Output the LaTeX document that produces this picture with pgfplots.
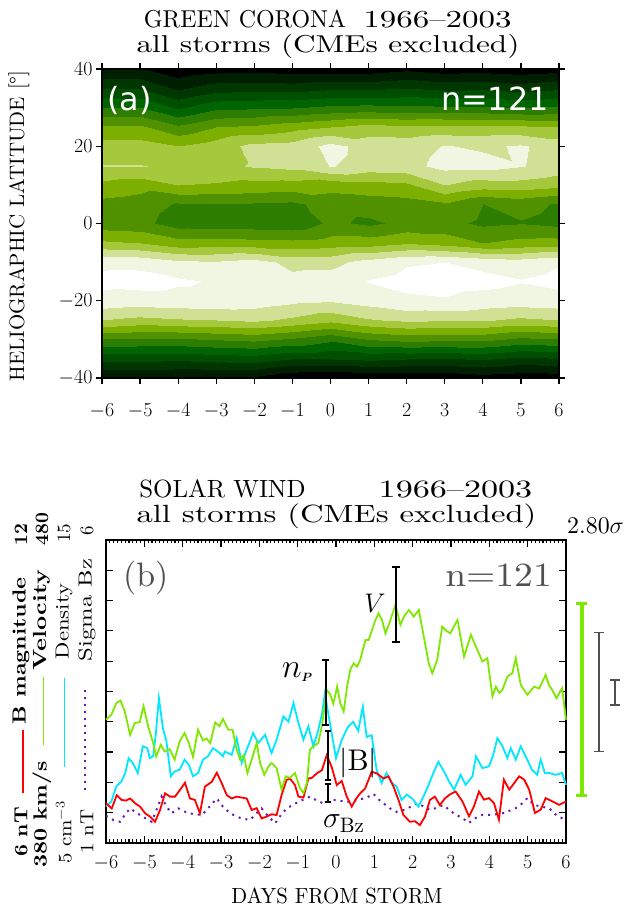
\RequirePackage{fix-cm}
\documentclass[border=0pt]{standalone}
\usepackage{fontspec}
\setmainfont{lmroman10-regular}[Extension=.otf, BoldFont=lmroman10-bold, ItalicFont=lmroman10-italic, BoldItalicFont=lmroman10-bolditalic]
\usepackage{bm}
\usepackage{graphicx}
\usepackage{pgfplots}
\pgfplotsset{compat=1.18}
\newfontfamily\dejavu{DejaVu Sans}
\definecolor{cgreen}{RGB}{127,232,0}
\definecolor{ccyan}{RGB}{0,232,255}
\definecolor{cred}{RGB}{255,0,0}
\definecolor{cpurple}{RGB}{100,25,180}
\definecolor{cgray}{RGB}{80,80,80}
\pgfplotsset{colormap={greencorona}{rgb255=(0,0,0) rgb255=(0,30,0) rgb255=(0,55,0) rgb255=(0,78,0) rgb255=(0,100,0) rgb255=(45,125,0) rgb255=(80,145,0) rgb255=(125,175,0) rgb255=(165,200,60) rgb255=(208,225,150) rgb255=(240,246,225) rgb255=(255,255,255)}}
\newcommand\fs[1]{\fontsize{#1}{#1}\selectfont}
\pgfplotstableread{
x y z
-6 -40 1.0
-5 -40 1.0
-4 -40 0.9
-3 -40 0.9
-2 -40 0.8
-1 -40 0.1
0 -40 0.0
1 -40 0.1
2 -40 0.2
3 -40 0.2
4 -40 0.5
5 -40 0.3
6 -40 0.4
-6 -35 3.3
-5 -35 3.3
-4 -35 3.2
-3 -35 3.4
-2 -35 3.5
-1 -35 3.0
0 -35 3.0
1 -35 3.2
2 -35 3.0
3 -35 2.9
4 -35 3.1
5 -35 2.7
6 -35 2.9
-6 -30 6.0
-5 -30 5.9
-4 -30 5.9
-3 -30 6.1
-2 -30 6.3
-1 -30 5.9
0 -30 5.3
1 -30 6.1
2 -30 6.4
3 -30 6.3
4 -30 6.3
5 -30 5.8
6 -30 6.0
-6 -25 9.0
-5 -25 8.7
-4 -25 8.9
-3 -25 9.0
-2 -25 9.2
-1 -25 8.8
0 -25 8.3
1 -25 8.9
2 -25 9.2
3 -25 9.1
4 -25 9.1
5 -25 8.8
6 -25 9.0
-6 -20 10.65
-5 -20 10.5
-4 -20 10.6
-3 -20 10.6
-2 -20 10.5
-1 -20 10.2
0 -20 10.05
1 -20 10.4
2 -20 10.8
3 -20 10.9
4 -20 10.6
5 -20 10.5
6 -20 10.6
-6 -15 11.3
-5 -15 11.4
-4 -15 11.15
-3 -15 10.9
-2 -15 10.8
-1 -15 10.3
0 -15 10.5
1 -15 11.05
2 -15 11.3
3 -15 11.4
4 -15 11.3
5 -15 11.05
6 -15 11.3
-6 -10 10.75
-5 -10 10.7
-4 -10 10.2
-3 -10 10.1
-2 -10 10.4
-1 -10 9.7
0 -10 9.7
1 -10 10.4
2 -10 10.9
3 -10 11.0
4 -10 10.7
5 -10 10.5
6 -10 10.9
-6 -5 8.2
-5 -5 8.0
-4 -5 7.4
-3 -5 7.5
-2 -5 7.4
-1 -5 7.3
0 -5 7.45
1 -5 7.5
2 -5 7.9
3 -5 7.6
4 -5 7.0
5 -5 7.3
6 -5 7.4
-6 0 6.4
-5 0 6.3
-4 0 5.5
-3 0 5.4
-2 0 5.4
-1 0 5.3
0 0 6.2
1 0 5.8
2 0 6.3
3 0 6.3
4 0 5.8
5 0 5.95
6 0 5.7
-6 5 6.7
-5 5 6.5
-4 5 5.9
-3 5 5.9
-2 5 5.9
-1 5 5.8
0 5 6.4
1 5 6.5
2 5 6.6
3 5 6.9
4 5 6.0
5 5 6.3
6 5 5.9
-6 10 7.7
-5 10 7.4
-4 10 8.0
-3 10 7.9
-2 10 7.7
-1 10 7.6
0 10 7.4
1 10 7.6
2 10 7.8
3 10 9.0
4 10 8.5
5 10 8.6
6 10 8.3
-6 15 9.05
-5 15 9.05
-4 15 8.8
-3 15 8.7
-2 15 9.1
-1 15 9.3
0 15 10.05
1 15 9.6
2 15 9.7
3 15 10.3
4 15 10.35
5 15 10.05
6 15 9.6
-6 20 8.4
-5 20 8.4
-4 20 8.0
-3 20 8.5
-2 20 9.3
-1 20 9.4
0 20 10.3
1 20 9.6
2 20 9.6
3 20 10.05
4 20 9.85
5 20 10.1
6 20 9.6
-6 25 7.2
-5 25 7.2
-4 25 6.2
-3 25 7.0
-2 25 7.2
-1 25 7.6
0 25 8.0
1 25 8.4
2 25 8.2
3 25 8.3
4 25 8.3
5 25 8.2
6 25 8.0
-6 30 5.1
-5 30 5.1
-4 30 3.9
-3 30 4.8
-2 30 4.9
-1 30 5.0
0 30 5.3
1 30 5.4
2 30 5.3
3 30 5.2
4 30 5.2
5 30 5.0
6 30 5.2
-6 35 2.9
-5 35 2.9
-4 35 1.8
-3 35 2.5
-2 35 2.6
-1 35 2.5
0 35 2.8
1 35 2.8
2 35 3.0
3 35 2.7
4 35 2.8
5 35 2.5
6 35 2.8
-6 40 1.1
-5 40 1.1
-4 40 0.3
-3 40 0.6
-2 40 0.7
-1 40 0.5
0 40 0.5
1 40 0.5
2 40 0.8
3 40 0.5
4 40 0.6
5 40 0.4
6 40 0.6
}\corona
\begin{document}
\begin{tikzpicture}
\useasboundingbox (0,0) rectangle (632bp,908bp);
% ---------------- panel (a)
\begin{axis}[at={(102bp,530bp)}, anchor=south west, scale only axis,
  width=457bp, height=309bp,
  xmin=-6, xmax=6, ymin=-40, ymax=40,
  xtick={-6,...,6}, ytick={-40,-20,0,20,40},
  tick align=outside, major tick length=6bp, axis on top,
  axis line style={line width=1.2bp},
  tick style={black, line width=1.2bp},
  tick label style={font=\fs{20}},
  xticklabel style={yshift=-16bp},
  colormap name=greencorona, colormap access=piecewise constant,
  point meta min=0, point meta max=12]
\addplot[surf, shader=interp, mesh/cols=13, point meta=explicit]
  table[x=x, y=y, meta=z] {\corona};
\end{axis}
% ---------------- panel (b)
\begin{axis}[at={(106bp,65bp)}, anchor=south west, scale only axis,
  width=460bp, height=303bp,
  xmin=-6, xmax=6, ymin=0, ymax=10,
  xtick={-6,...,6}, ytick={0,...,10}, yticklabel=\empty,
  minor x tick num=9,
  tick align=inside, major tick length=7bp, minor tick length=3.5bp,
  axis line style={line width=2.2bp},
  tick style={black, line width=1.2bp},
  xticklabel style={font=\fs{20}, yshift=-9bp},
  clip=false]
% Sigma Bz
\addplot[cpurple, line width=2bp, dash pattern=on 2bp off 5bp] coordinates {
(-6.0,0.9) (-5.8,0.75) (-5.63,0.7) (-5.5,0.95) (-5.37,1.14) (-5.2,1.0) (-5.11,0.92) (-4.95,0.8) (-4.81,0.7) (-4.68,1.1) (-4.55,1.53) (-4.42,1.2) (-4.29,0.98) (-4.11,1.14) (-3.97,1.05) (-3.85,0.98) (-3.65,0.95) (-3.5,0.92) (-3.3,1.2) (-3.11,1.47) (-2.95,1.2) (-2.76,0.98) (-2.6,0.88) (-2.46,0.81) (-2.24,0.76) (-2.1,0.95) (-1.94,1.14) (-1.78,0.9) (-1.59,0.65) (-1.45,0.9) (-1.29,1.14) (-1.13,1.25) (-0.98,1.36) (-0.82,1.45) (-0.68,1.53) (-0.5,1.4) (-0.33,1.31) (-0.2,1.38) (-0.07,1.42) (0.1,1.4) (0.25,1.35) (0.4,1.38) (0.58,1.42) (0.8,1.5) (0.98,1.62) (1.1,1.45) (1.24,1.31) (1.4,1.15) (1.58,1.03) (1.8,1.1) (1.95,1.2) (2.11,1.31) (2.3,1.2) (2.45,1.09) (2.6,1.15) (2.8,1.25) (2.95,1.1) (3.1,0.95) (3.3,0.82) (3.47,0.66) (3.6,0.8) (3.82,0.93) (4.08,0.93) (4.38,0.99) (4.69,1.15) (4.85,1.3) (4.99,1.48) (5.17,1.26) (5.35,1.2) (5.56,1.15) (5.78,0.88) (6.0,0.77)};
% Density
\addplot[ccyan, line width=1.8bp] coordinates {
(-6.0,1.21) (-5.86,1.37) (-5.73,1.87) (-5.6,2.03) (-5.5,2.3) (-5.41,2.8) (-5.3,2.64) (-5.17,2.31) (-5.04,3.19) (-4.92,3.13) (-4.86,2.8) (-4.77,2.86) (-4.70,3.6) (-4.62,4.78) (-4.51,3.74) (-4.43,3.41) (-4.31,2.2) (-4.21,2.36) (-4.08,2.42) (-3.95,2.75) (-3.84,2.58) (-3.73,2.2) (-3.6,2.31) (-3.47,2.75) (-3.34,2.86) (-3.21,3.13) (-3.08,3.02) (-2.95,2.86) (-2.9,3.02) (-2.72,2.91) (-2.59,3.46) (-2.46,2.64) (-2.33,3.08) (-2.16,3.63) (-2.03,3.30) (-1.85,3.57) (-1.68,2.97) (-1.55,3.41) (-1.37,4.18) (-1.24,4.0) (-1.11,4.62) (-0.98,3.96) (-0.85,3.41) (-0.72,3.85) (-0.59,3.19) (-0.46,3.74) (-0.36,4.3) (-0.29,4.95) (-0.16,3.96) (0.0,2.8) (0.15,3.4) (0.31,3.83) (0.45,4.0) (0.58,3.7) (0.7,4.5) (0.8,3.5) (0.93,3.56) (1.06,2.41) (1.19,1.98) (1.32,2.31) (1.45,2.0) (1.58,1.86) (1.71,1.42) (1.85,1.6) (2.0,1.45) (2.15,1.2) (2.28,1.53) (2.41,1.9) (2.54,2.31) (2.67,2.68) (2.8,2.4) (2.95,2.03) (3.08,1.76) (3.25,2.25) (3.38,1.92) (3.56,2.2) (3.65,2.86) (3.82,2.47) (3.99,2.53) (4.1,2.9) (4.21,3.46) (4.34,3.2) (4.47,2.8) (4.56,3.13) (4.69,2.75) (4.82,3.19) (4.99,2.75) (5.11,2.42) (5.25,2.25) (5.34,2.75) (5.45,2.3) (5.56,2.31) (5.73,2.25) (5.9,2.31) (6.0,1.92)};
% B magnitude
\addplot[cred, line width=1.8bp] coordinates {
(-6.0,1.31) (-5.85,1.14) (-5.72,1.58) (-5.59,1.42) (-5.48,1.4) (-5.37,1.47) (-5.24,1.31) (-5.11,1.2) (-4.98,0.98) (-4.85,0.87) (-4.72,0.7) (-4.59,1.09) (-4.46,1.64) (-4.33,1.53) (-4.20,1.53) (-4.07,1.75) (-3.94,1.99) (-3.81,1.47) (-3.68,1.42) (-3.55,0.98) (-3.42,1.86) (-3.24,2.02) (-3.11,2.32) (-2.98,1.97) (-2.85,1.58) (-2.72,1.47) (-2.59,1.53) (-2.46,1.5) (-2.33,1.47) (-2.2,1.09) (-2.07,1.15) (-1.94,0.81) (-1.81,0.87) (-1.68,0.95) (-1.55,0.92) (-1.42,1.58) (-1.29,2.08) (-1.2,2.13) (-1.07,1.91) (-0.98,1.53) (-0.85,1.5) (-0.72,2.13) (-0.63,2.15) (-0.5,2.3) (-0.37,2.4) (-0.24,2.9) (-0.11,2.5) (0.02,1.91) (0.15,2.05) (0.28,1.53) (0.41,1.2) (0.52,1.45) (0.63,1.64) (0.76,1.8) (0.93,2.35) (1.06,2.3) (1.24,2.13) (1.37,2.2) (1.5,1.86) (1.63,1.42) (1.76,0.92) (1.93,0.7) (2.06,0.72) (2.19,0.59) (2.32,0.87) (2.45,1.42) (2.58,1.53) (2.71,1.25) (2.84,1.47) (2.97,1.6) (3.12,1.70) (3.3,1.37) (3.47,0.88) (3.6,1.21) (3.73,1.70) (3.86,1.43) (3.99,1.48) (4.12,1.32) (4.25,0.77) (4.38,2.09) (4.52,1.76) (4.65,1.98) (4.78,2.2) (4.91,2.09) (5.04,1.76) (5.19,0.99) (5.34,1.1) (5.47,1.48) (5.65,1.37) (5.82,1.26) (6.0,1.37)};
% Velocity
\addplot[cgreen, line width=1.8bp] coordinates {
(-6.0,4.07) (-5.86,4.23) (-5.73,4.62) (-5.62,4.70) (-5.51,4.34) (-5.37,3.57) (-5.25,3.96) (-5.12,3.99) (-5.02,4.51) (-4.90,3.85) (-4.77,3.30) (-4.69,2.86) (-4.57,3.24) (-4.47,3.02) (-4.34,3.1) (-4.21,2.75) (-4.08,3.35) (-3.95,3.63) (-3.84,3.30) (-3.73,2.84) (-3.60,3.74) (-3.47,3.38) (-3.38,3.45) (-3.28,3.30) (-3.15,3.98) (-3.04,3.85) (-2.95,4.09) (-2.81,3.74) (-2.70,3.74) (-2.59,3.08) (-2.50,2.75) (-2.41,2.9) (-2.31,2.31) (-2.20,2.75) (-2.07,3.30) (-1.98,2.64) (-1.87,2.25) (-1.76,2.53) (-1.68,2.64) (-1.55,2.47) (-1.42,1.76) (-1.31,2.20) (-1.20,2.15) (-1.07,2.31) (-0.94,1.81) (-0.85,1.65) (-0.76,1.98) (-0.68,3.08) (-0.59,3.19) (-0.46,3.30) (-0.37,3.85) (-0.24,5.05) (-0.15,4.9) (-0.07,4.6) (0.03,5.16) (0.11,4.62) (0.2,4.34) (0.29,5.16) (0.37,5.71) (0.46,5.93) (0.55,5.82) (0.63,6.04) (0.77,6.70) (0.85,6.7) (0.94,7.03) (1.03,7.36) (1.11,7.58) (1.2,7.36) (1.29,6.92) (1.39,7.25) (1.55,7.86) (1.68,7.2) (1.77,7.47) (1.9,7.69) (2.03,7.47) (2.16,7.69) (2.29,6.81) (2.42,5.93) (2.51,5.6) (2.64,6.04) (2.77,7.14) (2.88,7.0) (2.98,6.92) (3.17,7.36) (3.34,6.15) (3.52,6.87) (3.65,6.48) (3.82,5.99) (3.95,6.1) (4.08,4.84) (4.17,5.16) (4.26,4.95) (4.34,5.05) (4.47,5.49) (4.6,5.6) (4.69,6.1) (4.82,5.22) (4.99,4.89) (5.17,5.16) (5.3,5.1) (5.47,5.55) (5.56,5.2) (5.64,5.05) (5.75,4.78) (5.9,5.11) (6.0,4.07)};
% error bars inside
\addplot[black, line width=1.8bp] coordinates {(1.56,6.64) (1.56,9.12)};
\addplot[black, line width=1.8bp] coordinates {(1.46,6.64) (1.66,6.64)};
\addplot[black, line width=1.8bp] coordinates {(1.46,9.12) (1.66,9.12)};
\addplot[black, line width=1.8bp] coordinates {(-0.27,3.89) (-0.27,6.04)};
\addplot[black, line width=1.8bp] coordinates {(-0.36,3.89) (-0.18,3.89)};
\addplot[black, line width=1.8bp] coordinates {(-0.36,6.04) (-0.18,6.04)};
\addplot[black, line width=1.8bp] coordinates {(-0.21,2.08) (-0.21,3.70)};
\addplot[black, line width=1.8bp] coordinates {(-0.30,2.08) (-0.12,2.08)};
\addplot[black, line width=1.8bp] coordinates {(-0.30,3.70) (-0.12,3.70)};
\addplot[black, line width=1.8bp] coordinates {(-0.21,1.34) (-0.21,1.95)};
\addplot[black, line width=1.8bp] coordinates {(-0.30,1.34) (-0.12,1.34)};
\addplot[black, line width=1.8bp] coordinates {(-0.30,1.95) (-0.12,1.95)};
% scale bars on the right
\addplot[cgreen, line width=4bp] coordinates {(6.41,1.58) (6.41,7.89)};
\addplot[cgreen, line width=3bp] coordinates {(6.27,1.58) (6.55,1.58)};
\addplot[cgreen, line width=3bp] coordinates {(6.27,7.89) (6.55,7.89)};
\addplot[cgray, line width=1.4bp] coordinates {(6.86,3.01) (6.86,6.94)};
\addplot[cgray, line width=1.4bp] coordinates {(6.73,3.01) (6.99,3.01)};
\addplot[cgray, line width=1.4bp] coordinates {(6.73,6.94) (6.99,6.94)};
\addplot[cgray, line width=1.4bp] coordinates {(7.28,4.55) (7.28,5.38)};
\addplot[cgray, line width=1.4bp] coordinates {(7.15,4.55) (7.41,4.55)};
\addplot[cgray, line width=1.4bp] coordinates {(7.15,5.38) (7.41,5.38)};
% labels inside
\node[inner sep=0, font=\fs{27}] at (axis cs:1.02,7.92) {$V$};
\node[inner sep=0, anchor=base west, font=\fs{34}] at (axis cs:-1.42,5.45) {$n$\raisebox{-4bp}{\fs{12}$\bm{P}$}};
\node[inner sep=0, anchor=base west, font=\fs{30}] at (axis cs:0.08,2.4) {$|\mathrm{B}|$};
\node[inner sep=0, anchor=base west, font=\fs{30}] at (axis cs:-0.34,0.5) {$\sigma_{\mathrm{Bz}}$};
\end{axis}
% ---------------- titles and texts
\node[inner sep=0, anchor=base, font=\fs{24.5}] at (245bp,880bp) {\scalebox{0.98}[1]{GREEN CORONA}};
\node[inner sep=0, anchor=base, font=\fs{24.5}] at (437.5bp,880bp) {\scalebox{1.35}[1]{1966--2003}};
\node[inner sep=0, anchor=base, font=\fs{24.5}] at (328bp,855bp) {\scalebox{1.28}[1]{all storms (CMEs excluded)}};
\node[inner sep=0, rotate=90, font=\fs{21}] at (19bp,682bp) {HELIOGRAPHIC LATITUDE [°]};
\node[inner sep=0, anchor=base west, text=white, font=\dejavu\fs{32}] at (107bp,797bp) {(a)};
\node[inner sep=0, anchor=base east, text=white, font=\dejavu\fs{32}] at (549bp,797bp) {n=121};
\node[inner sep=0, anchor=base, font=\fs{25}] at (222.5bp,410bp) {\scalebox{1.0}[1]{SOLAR WIND}};
\node[inner sep=0, anchor=base, font=\fs{25}] at (455.5bp,410bp) {\scalebox{1.37}[1]{1966--2003}};
\node[inner sep=0, anchor=base, font=\fs{25}] at (336.5bp,385bp) {\scalebox{1.31}[1]{all storms (CMEs excluded)}};
\node[inner sep=0, anchor=base west, text=cgray, font=\fs{34}] at (123bp,321bp) {(b)};
\node[inner sep=0, anchor=base east, text=cgray, font=\fs{34}] at (552bp,321bp) {\scalebox{1.11}[1]{n=121}};
\node[inner sep=0, anchor=base west, font=\fs{24}] at (567bp,374bp) {2.80$\sigma$};
\node[inner sep=0, anchor=base, font=\fs{22}] at (337bp,5bp) {\scalebox{0.95}[1]{DAYS FROM STORM}};
% left column labels
\draw[cred, line width=1.8bp] (23bp,115bp) -- (23bp,178bp);
\draw[cgreen, line width=1.8bp] (43.5bp,163bp) -- (43.5bp,231bp);
\draw[ccyan, line width=1.8bp] (64.5bp,141bp) -- (64.5bp,230bp);
\draw[cpurple, line width=2bp, dash pattern=on 2bp off 5bp] (85bp,118bp) -- (85bp,221bp);
\begin{scope}[every node/.style={inner sep=0, rotate=90}]
\node[font=\fs{19}\bfseries] at (21bp,76bp) {\scalebox{1.1}[1]{6 nT}};
\node[font=\fs{19}\bfseries] at (21bp,257bp) {\scalebox{1.2}[1]{B magnitude}};
\node[font=\fs{19}\bfseries] at (21bp,373.5bp) {12};
\node[font=\fs{19}\bfseries] at (42bp,93.5bp) {\scalebox{1.2}[1]{380 km/s}};
\node[font=\fs{19}\bfseries] at (42bp,288bp) {\scalebox{1.3}[1]{Velocity}};
\node[font=\fs{19}\bfseries] at (42bp,379bp) {480};
\node[font=\fs{19}] at (64bp,75.5bp) {\scalebox{1.1}[1]{5 cm$^{-3}$}};
\node[font=\fs{19}] at (64bp,286.5bp) {\scalebox{1.2}[1]{Density}};
\node[font=\fs{19}] at (64bp,374.5bp) {15};
\node[font=\fs{19}] at (87bp,76.5bp) {\scalebox{1.1}[1]{1 nT}};
\node[font=\fs{19}] at (87bp,298bp) {\scalebox{1.3}[1]{Sigma Bz}};
\node[font=\fs{19}] at (87bp,377bp) {6};
\end{scope}
\end{tikzpicture}
\end{document}
